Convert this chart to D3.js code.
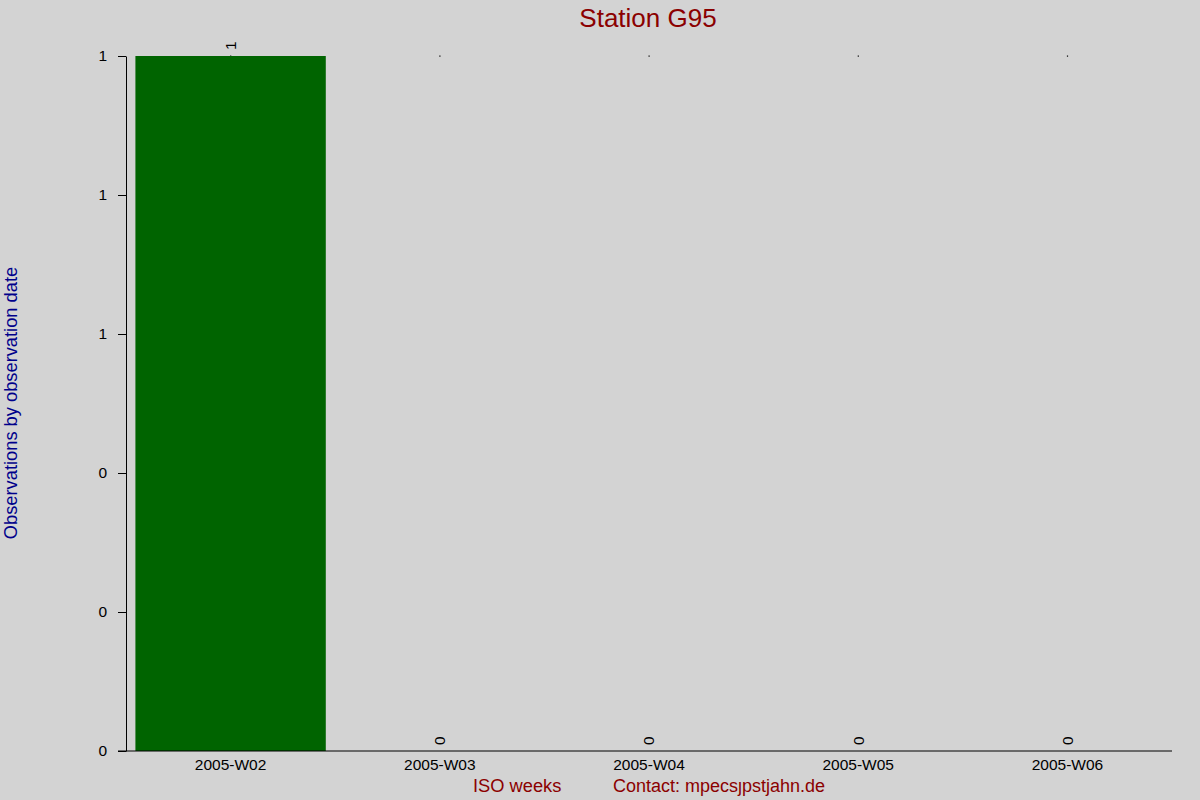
<!DOCTYPE html>
<html>
<head>
<meta charset="utf-8">
<script src="https://cdn.jsdelivr.net/npm/d3@7"></script>
<style>
  html, body { margin: 0; padding: 0; background: #d3d3d3; }
  svg { display: block; font-family: "Liberation Sans", Arial, sans-serif; }
</style>
</head>
<body>
<div id="chart"></div>
<script>
// ---------------------------------------------------------
// DATA
// ---------------------------------------------------------
const weeks  = ["2005-W02", "2005-W03", "2005-W04", "2005-W05", "2005-W06"];
const counts = [1, 0, 0, 0, 0];
const yTicks = [0, 0.2, 0.4, 0.6, 0.8, 1];

const width = 1200, height = 800;
const margin = { top: 56, right: 28, bottom: 49, left: 126 };
const tickFont = "15.5px";

const svg = d3.select("#chart").append("svg")
    .attr("width", width)
    .attr("height", height)
    .style("background", "#d3d3d3");

// ---------------------------------------------------------
// SCALES
// ---------------------------------------------------------
const x = d3.scaleBand()
    .domain(weeks)
    .range([margin.left, width - margin.right])
    .paddingInner(0.09)
    .paddingOuter(0.045);

const y = d3.scaleLinear()
    .domain([0, 1])
    .range([height - margin.bottom, margin.top]);

const rows = weeks.map((w, i) => ({ week: w, value: counts[i] }));

// tiny markers at the top of each band (seen in the original)
svg.append("g").selectAll("rect")
  .data(rows)
  .enter().append("rect")
    .attr("x", d => x(d.week) + x.bandwidth() / 2 - 0.5)
    .attr("y", y(1) - 0.5)
    .attr("width", 1.2)
    .attr("height", 1.2)
    .attr("fill", "#000");

// bars
svg.append("g").selectAll("rect")
  .data(rows)
  .enter().append("rect")
    .attr("x", d => x(d.week))
    .attr("y", d => y(d.value))
    .attr("width", x.bandwidth())
    .attr("height", d => y(0) - y(d.value))
    .attr("fill", "#006400");

// value labels (rotated)
svg.append("g").selectAll("text")
  .data(rows)
  .enter().append("text")
    .attr("transform", d => `translate(${x(d.week) + x.bandwidth() / 2},${y(d.value) - 6}) rotate(-90)`)
    .attr("dy", "0.35em")
    .attr("text-anchor", "start")
    .style("font-size", tickFont)
    .style("fill", "#000")
    .text(d => d.value);

// ---------------------------------------------------------
// AXES
// ---------------------------------------------------------
const yAxis = svg.append("g")
    .attr("transform", `translate(${margin.left},0)`)
    .call(d3.axisLeft(y)
      .tickValues(yTicks)
      .tickFormat(d3.format(".0f"))
      .tickSize(8)
      .tickSizeOuter(0)
      .tickPadding(11));
yAxis.selectAll("text").style("font-size", tickFont).style("fill", "#000").style("font-family", "Liberation Sans, Arial, sans-serif");
yAxis.selectAll("line, path").attr("stroke", "#000");

const xAxis = svg.append("g")
    .attr("transform", `translate(0,${y(0)})`)
    .call(d3.axisBottom(x).tickSize(0).tickPadding(8));
xAxis.select(".domain").remove();
xAxis.selectAll("text").style("font-size", tickFont).style("fill", "#000").style("font-family", "Liberation Sans, Arial, sans-serif");

svg.append("line")
    .attr("x1", margin.left - 8)
    .attr("x2", width - margin.right)
    .attr("y1", y(0))
    .attr("y2", y(0))
    .attr("stroke", "#000");

// ---------------------------------------------------------
// TITLES
// ---------------------------------------------------------
svg.append("text")
    .attr("x", 648)
    .attr("y", 27)
    .attr("text-anchor", "middle")
    .style("font-size", "26px")
    .style("fill", "#8b0000")
    .text("Station G95");

svg.append("text")
    .attr("transform", "translate(17,403) rotate(-90)")
    .attr("text-anchor", "middle")
    .style("font-size", "18.3px")
    .style("fill", "#00008b")
    .text("Observations by observation date");

svg.append("text")
    .attr("x", 473)
    .attr("y", 792)
    .style("font-size", "18.3px")
    .style("fill", "#8b0000")
    .text("ISO weeks");

svg.append("text")
    .attr("x", 613)
    .attr("y", 792)
    .style("font-size", "18px")
    .style("fill", "#8b0000")
    .text("Contact: mpecsȷpstjahn.de");
</script>
</body>
</html>
